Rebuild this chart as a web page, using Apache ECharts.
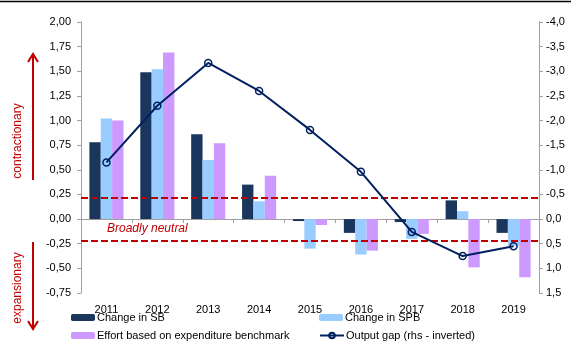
<!DOCTYPE html>
<html>
<head>
<meta charset="utf-8">
<script src="https://cdn.jsdelivr.net/npm/echarts@6/dist/echarts.min.js"></script>
<style>
  html, body { margin: 0; padding: 0; background: #fff; }
  #chart { width: 571px; height: 345px; }
</style>
</head>
<body>
<div id="chart"></div>
<script>
// Fiscal stance indicators, 2011-2019 (percentage points of GDP)
const years = ['2011', '2012', '2013', '2014', '2015', '2016', '2017', '2018', '2019'];
const changeSB = [0.78, 1.49, 0.86, 0.35, -0.02, -0.14, -0.03, 0.19, -0.14];
const changeSPB = [1.02, 1.52, 0.60, 0.18, -0.30, -0.36, -0.20, 0.08, -0.27];
const effortBenchmark = [1.00, 1.69, 0.77, 0.44, -0.06, -0.32, -0.15, -0.49, -0.59];
// Output gap, plotted on the inverted right-hand axis
const outputGap = [-1.15, -2.30, -3.17, -2.60, -1.81, -0.96, 0.26, 0.75, 0.55];
// Band of a broadly neutral stance
const neutralBand = [0.22, -0.22];

const seriesNames = ['Change in SB', 'Change in SPB', 'Effort based on expenditure benchmark', 'Output gap (rhs - inverted)'];

const FONT = 'Liberation Sans';
const RED = '#c00000';
const NAVY = '#002060';
const AXIS_GREY = '#a0a0a0';

const fmt = (d) => (v) => v.toFixed(d).replace('.', ',');

const chart = echarts.init(document.getElementById('chart'), null, { renderer: 'canvas' });

function legendAt(name, left, top) {
  return {
    data: [name], left: left, top: top, padding: 0,
    itemWidth: 24, itemHeight: 7, itemGap: 0,
    textStyle: { fontFamily: FONT, fontSize: 11, color: '#000', padding: [0, 0, 0, -3] }
  };
}

const option = {
  animation: false,
  backgroundColor: '#fff',
  textStyle: { fontFamily: FONT },
  grid: { left: 81, right: 32, top: 22, bottom: 52 },
  legend: [
    legendAt(seriesNames[0], 71, 312),
    legendAt(seriesNames[1], 319, 312),
    legendAt(seriesNames[2], 71, 330),
    legendAt(seriesNames[3], 319, 330)
  ],
  xAxis: [
    {
      type: 'category', data: years, position: 'bottom',
      axisLine: { show: false, onZero: false }, axisTick: { show: false },
      axisLabel: { fontFamily: FONT, fontSize: 11, color: '#000', margin: 11 }
    },
    {
      type: 'category', data: years, position: 'bottom',
      axisLine: { show: true, onZero: true, onZeroAxisIndex: 0, lineStyle: { color: AXIS_GREY, width: 1 } },
      axisTick: { show: true, length: 4, lineStyle: { color: AXIS_GREY } },
      axisLabel: { show: false }
    }
  ],
  yAxis: [
    {
      type: 'value', min: -0.75, max: 2, interval: 0.25,
      splitLine: { show: false },
      axisLine: { show: true, lineStyle: { color: AXIS_GREY, width: 1 } },
      axisTick: { show: true, length: 4, lineStyle: { color: AXIS_GREY } },
      axisLabel: { fontFamily: FONT, fontSize: 11, color: '#000', margin: 10, formatter: fmt(2) }
    },
    {
      type: 'value', min: -4, max: 1.5, interval: 0.5, inverse: true, position: 'right',
      splitLine: { show: false },
      axisLine: { show: true, lineStyle: { color: AXIS_GREY, width: 1 } },
      axisTick: { show: true, length: 4, lineStyle: { color: AXIS_GREY } },
      axisLabel: { fontFamily: FONT, fontSize: 11, color: '#000', margin: 7, formatter: fmt(1) }
    }
  ],
  series: [
    {
      name: seriesNames[0], type: 'bar', data: changeSB, xAxisIndex: 0, yAxisIndex: 0,
      barGap: '0%', barCategoryGap: '33%',
      itemStyle: { color: '#1b365d' },
      markLine: {
        silent: true, symbol: 'none', label: { show: false },
        lineStyle: { color: RED, type: [7, 3], width: 2 },
        data: neutralBand.map(v => ({ yAxis: v }))
      }
    },
    {
      name: seriesNames[1], type: 'bar', data: changeSPB, xAxisIndex: 0, yAxisIndex: 0,
      barGap: '0%', barCategoryGap: '33%',
      itemStyle: { color: '#99ccff' }
    },
    {
      name: seriesNames[2], type: 'bar', data: effortBenchmark, xAxisIndex: 0, yAxisIndex: 0,
      barGap: '0%', barCategoryGap: '33%',
      itemStyle: { color: '#cc99ff' }
    },
    {
      name: seriesNames[3], type: 'line', data: outputGap, xAxisIndex: 0, yAxisIndex: 1,
      z: 5, symbol: 'circle', symbolSize: 7,
      lineStyle: { color: NAVY, width: 2 },
      itemStyle: { color: 'rgba(255,255,255,0)', borderColor: NAVY, borderWidth: 1.5 }
    }
  ],
  graphic: [
    // frame rule along the top edge
    { type: 'line', shape: { x1: 0, y1: 1.5, x2: 571, y2: 1.5 }, style: { stroke: '#000', lineWidth: 1.5 }, silent: true },
    // neutral band caption
    {
      type: 'text', left: 107, top: 223, silent: true,
      style: { text: 'Broadly neutral', fill: RED, font: 'italic 12px "Liberation Sans"' }
    },
    // stance annotations on the left margin
    {
      type: 'text', x: 18, y: 141, rotation: Math.PI / 2, silent: true,
      style: { text: 'contractionary', fill: RED, font: '12px "Liberation Sans"', align: 'center', verticalAlign: 'middle' }
    },
    {
      type: 'text', x: 18, y: 288, rotation: Math.PI / 2, silent: true,
      style: { text: 'expansionary', fill: RED, font: '12px "Liberation Sans"', align: 'center', verticalAlign: 'middle' }
    },
    { type: 'line', shape: { x1: 33, y1: 54, x2: 33, y2: 180 }, style: { stroke: RED, lineWidth: 2 }, silent: true },
    { type: 'polyline', shape: { points: [[28, 62], [33, 54], [38, 62]] }, style: { stroke: RED, lineWidth: 2, fill: null }, silent: true },
    { type: 'line', shape: { x1: 33, y1: 242, x2: 33, y2: 329 }, style: { stroke: RED, lineWidth: 2 }, silent: true },
    { type: 'polyline', shape: { points: [[28, 321], [33, 329], [38, 321]] }, style: { stroke: RED, lineWidth: 2, fill: null }, silent: true }
  ]
};

chart.setOption(option);
</script>
</body>
</html>
